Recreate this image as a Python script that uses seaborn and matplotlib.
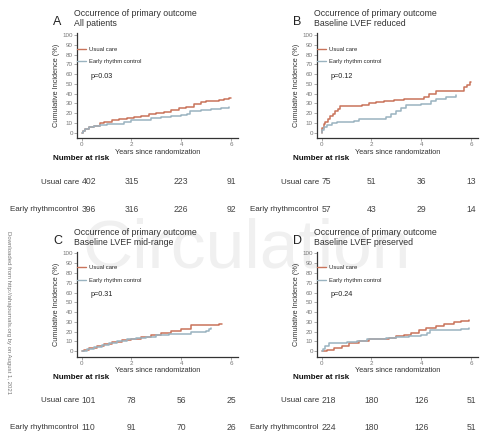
import numpy as np
import pandas as pd
import matplotlib
matplotlib.use('Agg')
import matplotlib.pyplot as plt
import matplotlib.transforms as mtransforms
from matplotlib.lines import Line2D
import seaborn as sns

sns.set_theme(style='white')
plt.rcParams['font.family'] = ['Liberation Sans', 'DejaVu Sans']

# ---- data (years, cumulative incidence %) ----
a_usual_t = [0, 0.05, 0.15, 0.3, 0.5, 0.75, 0.9, 1.2, 1.5, 1.8, 2.1, 2.4, 2.7, 3.0, 3.3, 3.6, 3.9, 4.2, 4.5, 4.8, 5.0, 5.5, 5.7, 5.9, 6.0]
a_usual_y = [0, 2, 4, 6, 7, 10, 11, 13, 14, 15, 16.5, 17.5, 19, 20, 21.5, 23, 25, 26.5, 29, 31, 32.5, 33, 35, 36, 36]
a_early_t = [0, 0.05, 0.15, 0.3, 0.5, 0.75, 1.0, 1.4, 1.7, 2.0, 2.4, 2.8, 3.2, 3.6, 4.0, 4.25, 4.35, 4.8, 5.2, 5.6, 5.9]
a_early_y = [0, 2, 4, 6, 7, 8, 8.5, 9, 11, 12.5, 13.5, 15, 16, 17.5, 18.5, 19.5, 22, 23, 24, 25.5, 26]

b_usual_t = [0, 0.03, 0.08, 0.15, 0.25, 0.35, 0.45, 0.55, 0.65, 0.75, 1.6, 1.9, 2.2, 2.5, 2.9, 3.3, 3.8, 4.1, 4.3, 4.6, 5.7, 5.85, 5.95, 6.0]
b_usual_y = [0, 5, 9, 11, 14, 17, 19, 22, 24, 27, 28, 30, 31, 32, 33, 34, 35, 37, 40, 43, 47, 49, 52, 52]
b_early_t = [0, 0.03, 0.08, 0.2, 0.4, 0.6, 1.3, 1.5, 2.6, 2.8, 3.0, 3.2, 3.4, 4.0, 4.4, 4.6, 5.0, 5.4]
b_early_y = [0, 3, 6, 8, 10, 11, 12, 14, 16, 19, 22, 25, 28, 29, 32, 34, 37, 39]

c_usual_t = [0, 0.1, 0.3, 0.6, 0.9, 1.2, 1.6, 2.0, 2.4, 2.8, 3.2, 3.6, 4.0, 4.4, 5.5, 5.65]
c_usual_y = [0, 1, 3, 5, 7, 9, 11, 13, 15, 17, 19, 21, 23, 27, 28, 28]
c_early_t = [0, 0.2, 0.5, 0.8, 1.1, 1.4, 1.8, 2.2, 2.6, 3.0, 3.5, 4.2, 4.4, 5.0, 5.1, 5.2]
c_early_y = [0, 2, 4, 6, 8, 10, 12, 14, 15, 17, 18, 18, 20, 21, 23, 24]

d_usual_t = [0, 0.2, 0.5, 0.8, 1.1, 1.5, 1.9, 2.3, 2.7, 3.0, 3.3, 3.6, 3.9, 4.2, 4.6, 4.9, 5.3, 5.6, 5.9]
d_usual_y = [0, 1, 3, 5, 8, 10, 12, 13, 14, 16, 17, 19, 22, 24, 26, 28, 30, 31, 32]
d_early_t = [0, 0.05, 0.15, 0.3, 0.6, 1.0, 1.4, 1.8, 2.2, 2.6, 3.0, 3.5, 4.0, 4.25, 4.35, 5.0, 5.6, 5.9]
d_early_y = [0, 2, 5, 8, 8, 9, 10, 12, 13, 14, 15, 16, 17, 19, 22, 22, 23, 24]

letters = ['A', 'B', 'C', 'D']
subtitles = ['All patients', 'Baseline LVEF reduced', 'Baseline LVEF mid-range', 'Baseline LVEF preserved']
p_values = ['p=0.03', 'p=0.12', 'p=0.31', 'p=0.24']
risk_times = [0, 2, 4, 6]
risk_usual = [[402, 315, 223, 91], [75, 51, 36, 13], [101, 78, 56, 25], [218, 180, 126, 51]]
risk_early = [[396, 316, 226, 92], [57, 43, 29, 14], [110, 91, 70, 26], [224, 180, 126, 51]]

curves = [
    (a_usual_t, a_usual_y, a_early_t, a_early_y),
    (b_usual_t, b_usual_y, b_early_t, b_early_y),
    (c_usual_t, c_usual_y, c_early_t, c_early_y),
    (d_usual_t, d_usual_y, d_early_t, d_early_y),
]

usual_col = '#c9735a'
early_col = '#9ab3c0'
W, H = 480, 448

fig = plt.figure(figsize=(4.8, 4.48), dpi=100)


def fx(x):
    return x / W


def fy(y):
    return 1 - y / H


# watermark and side note (behind everything)
fig.text(fx(82), fy(268), 'Circulation', fontsize=50, color='#f0f0f0', ha='left', va='baseline', zorder=-5)
fig.text(fx(8), fy(231), 'Downloaded from http://ahajournals.org by on August 1, 2021',
         fontsize=4.3, color='#777777', rotation=-90, ha='center', va='top')

for i in range(4):
    dx = 240 * (i % 2)
    dy = 218.5 * (i // 2)
    ut, uy, et, ey = curves[i]
    df = pd.concat([
        pd.DataFrame({'t': ut, 'y': uy, 'arm': 'Usual care'}),
        pd.DataFrame({'t': et, 'y': ey, 'arm': 'Early rhythm control'}),
    ])

    ax = fig.add_axes([fx(77 + dx), fy(138 + dy), fx(161), (138 - 33) / H])
    ax.patch.set_alpha(0)
    sns.lineplot(data=df, x='t', y='y', hue='arm', palette={'Usual care': usual_col, 'Early rhythm control': early_col},
                 drawstyle='steps-post', estimator=None, linewidth=1.1, legend=False, ax=ax)
    ax.set_xlim(-0.19, 6.28)
    ax.set_ylim(-5.4, 102)
    ax.set_xticks([0, 2, 4, 6])
    ax.set_yticks(np.arange(0, 101, 10))
    for s in ['top', 'right']:
        ax.spines[s].set_visible(False)
    for s in ['left', 'bottom']:
        ax.spines[s].set_color('#333333')
        ax.spines[s].set_linewidth(0.9)
    ax.tick_params(axis='both', which='both', length=2, width=0.5, color='#888888', labelsize=4.5,
                   labelcolor='#777777', pad=1, left=True, bottom=True)
    ax.set_xlabel('Years since randomization', fontsize=5.3, color='#333333', labelpad=1)
    ax.set_ylabel('Cumulative Incidence (%)', fontsize=5.3, color='#333333', labelpad=2)

    handles = [Line2D([0], [0], color=usual_col, lw=1.0), Line2D([0], [0], color=early_col, lw=1.0)]
    ax.legend(handles, ['Usual care', 'Early rhythm control'], loc='upper left', bbox_to_anchor=(0.0, 0.87),
              frameon=False, fontsize=4.2, handlelength=1.5, handletextpad=0.6, labelspacing=1.3,
              borderaxespad=0, borderpad=0)

    # titles and p-value
    fig.text(fx(91 + dx), fy(76 + dy), p_values[i], fontsize=5.2, color='#222222', va='center')
    fig.text(fx(53 + dx), fy(22 + dy), letters[i], fontsize=9, color='#222222', va='center', ha='left')
    fig.text(fx(74 + dx), fy(14 + dy), 'Occurrence of primary outcome', fontsize=6.3, color='#333333', va='center')
    fig.text(fx(74 + dx), fy(23.5 + dy), subtitles[i], fontsize=6.3, color='#333333', va='center')

    # number at risk table
    fig.text(fx(53 + dx), fy(159 + dy), 'Number at risk', fontsize=5.8, fontweight='bold', color='#111111', va='center')
    fig.text(fx(79 + dx), fy(182 + dy), 'Usual care', fontsize=5.8, color='#333333', va='center', ha='right')
    fig.text(fx(79 + dx), fy(209 + dy), 'Early rhythmcontrol', fontsize=5.8, color='#333333', va='center', ha='right')
    tr = mtransforms.blended_transform_factory(ax.transData, fig.transFigure)
    for j, t in enumerate(risk_times):
        ha = 'left' if j == 0 else 'center'
        ax.text(t, fy(182 + dy), str(risk_usual[i][j]), transform=tr, fontsize=6.2, color='#444444',
                va='center', ha=ha, clip_on=False)
        ax.text(t, fy(209 + dy), str(risk_early[i][j]), transform=tr, fontsize=6.2, color='#444444',
                va='center', ha=ha, clip_on=False)

fig.savefig('out.png', dpi=100, facecolor='white')
